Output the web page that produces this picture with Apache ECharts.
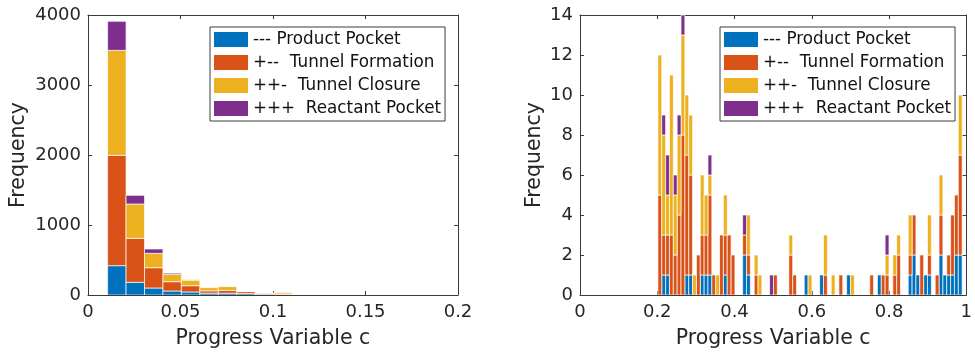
<!DOCTYPE html>
<html><head><meta charset="utf-8">
<script src="https://cdn.jsdelivr.net/npm/echarts@6/dist/echarts.min.js"></script>
<style>html,body{margin:0;padding:0;background:#fff}#c{width:975px;height:354px}</style>
</head><body><div id="c"></div>
<script>
// ---- data ----
const seriesNames = ['--- Product Pocket', '+--  Tunnel Formation', '++-  Tunnel Closure', '+++  Reactant Pocket'];
const colors = ['#0072BD', '#D95319', '#EDB120', '#7E2F8E'];

// left histogram: bin start and width (c), counts per class
const leftBinStart = 0.0106;
const leftBinWidth = 0.00997;
const leftBlue   = [419, 181, 100, 57, 43, 26, 26, 20, 14, 6];
const leftRed    = [1576, 629, 290, 133, 90, 34, 39, 28, 3, 10];
const leftYellow = [1500, 490, 205, 105, 81, 45, 54, 4, 0, 20];
const leftPurple = [415, 124, 62, 17, 3, 0, 0, 0, 0, 0];
const leftXTicks = {min: 0, max: 0.2, interval: 0.05};
const leftYTicks = {min: 0, max: 4000, interval: 1000};

// right histogram
const rightBinStart = 0.2017;
const rightBinWidth = 0.00997;
const rightBlue = [
  0,1,1,0,0,0,0,1,1,0,
  0,1,1,1,0,0,0,1,0,0,
  0,0,2,1,0,0,0,0,0,0,
  0,0,0,0,0,0,0,0,1,0,
  0,0,1,0,0,0,0,0,0,1,
  0,0,0,0,0,0,0,1,0,0,
  0,0,0,0,0,1,2,1,0,1,
  1,0,0,2,1,1,1,2,2];
const rightRed = [
  5,2,2,3,2,4,8,6,5,0,
  2,2,2,4,1,0,3,2,3,2,
  0,0,1,1,0,1,0,0,0,0,
  1,0,0,0,2,1,0,0,0,0,
  0,0,0,1,0,0,0,1,0,0,
  0,0,0,0,0,1,0,0,1,1,
  0,1,2,0,0,1,2,0,2,0,
  1,0,1,2,0,1,3,3,5];
const rightYellow = [
  7,5,2,8,3,4,5,3,3,1,
  0,3,2,1,0,1,0,2,0,0,
  0,0,0,2,0,1,1,0,0,0,
  0,0,0,0,1,0,0,0,0,1,
  0,0,0,2,0,1,0,0,0,0,
  1,0,0,0,0,0,0,0,0,1,
  0,1,1,0,0,2,0,0,0,0,
  2,0,0,2,0,0,0,0,3];
const rightPurple = [
  0,1,2,0,1,1,1,0,0,0,
  0,0,0,1,0,0,0,0,0,0,
  0,0,1,0,0,0,0,0,0,1,
  0,0,0,0,0,0,0,0,0,0,
  0,0,0,0,0,0,0,0,0,0,
  0,0,0,0,0,0,0,0,0,1,
  0,0,0,0,0,0,0,0,0,0,
  0,0,0,0,0,0,0,0,0];
const rightXTicks = {min: 0, max: 1, interval: 0.2};
const rightYTicks = {min: 0, max: 14, interval: 2};

// ---- build ----
function stackData(start, width, layers) {
  const out = layers.map(() => []);
  const n = layers[0].length;
  for (let i = 0; i < n; i++) {
    let base = 0;
    for (let s = 0; s < layers.length; s++) {
      const v = layers[s][i];
      if (v > 0) out[s].push([start + i * width, start + (i + 1) * width, base, base + v]);
      base += v;
    }
  }
  return out;
}
const leftStacks = stackData(leftBinStart, leftBinWidth, [leftBlue, leftRed, leftYellow, leftPurple]);
const rightStacks = stackData(rightBinStart, rightBinWidth, [rightBlue, rightRed, rightYellow, rightPurple]);

function renderItem(params, api) {
  const p0 = api.coord([api.value(0), api.value(3)]);
  const p1 = api.coord([api.value(1), api.value(2)]);
  return {
    type: 'rect',
    shape: {x: p0[0], y: p0[1], width: p1[0] - p0[0], height: p1[1] - p0[1]},
    style: {fill: api.visual('color'), stroke: 'rgba(255,255,255,0.85)', lineWidth: 0.8}
  };
}

const FONT = 'DejaVu Sans';
const TXT = '#262626';
const LINE = '#3a3a3a';
const plain = v => String(v);

function xAxes(grid, t, name) {
  return [
    {type: 'value', gridIndex: grid, position: 'bottom', min: t.min, max: t.max, interval: t.interval,
     name: name, nameLocation: 'middle', nameGap: 33,
     nameTextStyle: {fontFamily: FONT, fontSize: 20.5, color: TXT},
     axisLine: {show: true, onZero: false, lineStyle: {color: LINE, width: 1}},
     axisTick: {show: true, inside: true, length: 4, lineStyle: {color: LINE}},
     axisLabel: {show: true, margin: 8, fontFamily: FONT, fontSize: 18, color: TXT, formatter: plain},
     splitLine: {show: false}},
    {type: 'value', gridIndex: grid, position: 'top', min: t.min, max: t.max, interval: t.interval,
     axisLine: {show: true, onZero: false, lineStyle: {color: LINE, width: 1}},
     axisTick: {show: true, inside: true, length: 4, lineStyle: {color: LINE}},
     axisLabel: {show: false}, splitLine: {show: false}}
  ];
}
function yAxes(grid, t, gap) {
  return [
    {type: 'value', gridIndex: grid, position: 'left', min: t.min, max: t.max, interval: t.interval,
     name: 'Frequency', nameLocation: 'middle', nameGap: gap, nameRotate: 90,
     nameTextStyle: {fontFamily: FONT, fontSize: 20.5, color: TXT},
     axisLine: {show: true, onZero: false, lineStyle: {color: LINE, width: 1}},
     axisTick: {show: true, inside: true, length: 4, lineStyle: {color: LINE}},
     axisLabel: {show: true, margin: 7, fontFamily: FONT, fontSize: 18, color: TXT, formatter: plain},
     splitLine: {show: false}},
    {type: 'value', gridIndex: grid, position: 'right', min: t.min, max: t.max, interval: t.interval,
     axisLine: {show: true, onZero: false, lineStyle: {color: LINE, width: 1}},
     axisTick: {show: true, inside: true, length: 4, lineStyle: {color: LINE}},
     axisLabel: {show: false}, splitLine: {show: false}}
  ];
}

const series = [];
seriesNames.forEach((nm, s) => {
  series.push({type: 'custom', name: nm, xAxisIndex: 0, yAxisIndex: 0, renderItem: renderItem,
    encode: {x: [0, 1], y: [2, 3]}, itemStyle: {color: colors[s]}, data: leftStacks[s], clip: true, silent: true});
  series.push({type: 'custom', name: nm, xAxisIndex: 2, yAxisIndex: 2, renderItem: renderItem,
    encode: {x: [0, 1], y: [2, 3]}, itemStyle: {color: colors[s]}, data: rightStacks[s], clip: true, silent: true});
});

function legend(left) {
  return {
    data: seriesNames, orient: 'vertical', left: left, top: 27,
    itemWidth: 34, itemHeight: 15, itemGap: 6, icon: 'rect',
    padding: [4, 4, 4, 4], borderColor: '#262626', borderWidth: 0.9, backgroundColor: '#fff',
    textStyle: {fontFamily: FONT, fontSize: 16.8, color: '#111', lineHeight: 15},
    selectedMode: false
  };
}

const option = {
  animation: false,
  backgroundColor: '#fff',
  grid: [
    {left: 88, top: 15, width: 370, height: 280},
    {left: 580, top: 15, width: 388, height: 280}
  ],
  xAxis: [...xAxes(0, leftXTicks, 'Progress Variable c'), ...xAxes(1, rightXTicks, 'Progress Variable c')],
  yAxis: [...yAxes(0, leftYTicks, 59), ...yAxes(1, rightYTicks, 35)],
  legend: [legend(210), legend(720)],
  series: series
};
const chart = echarts.init(document.getElementById('c'), null, {renderer: 'canvas'});
chart.setOption(option);
</script></body></html>
